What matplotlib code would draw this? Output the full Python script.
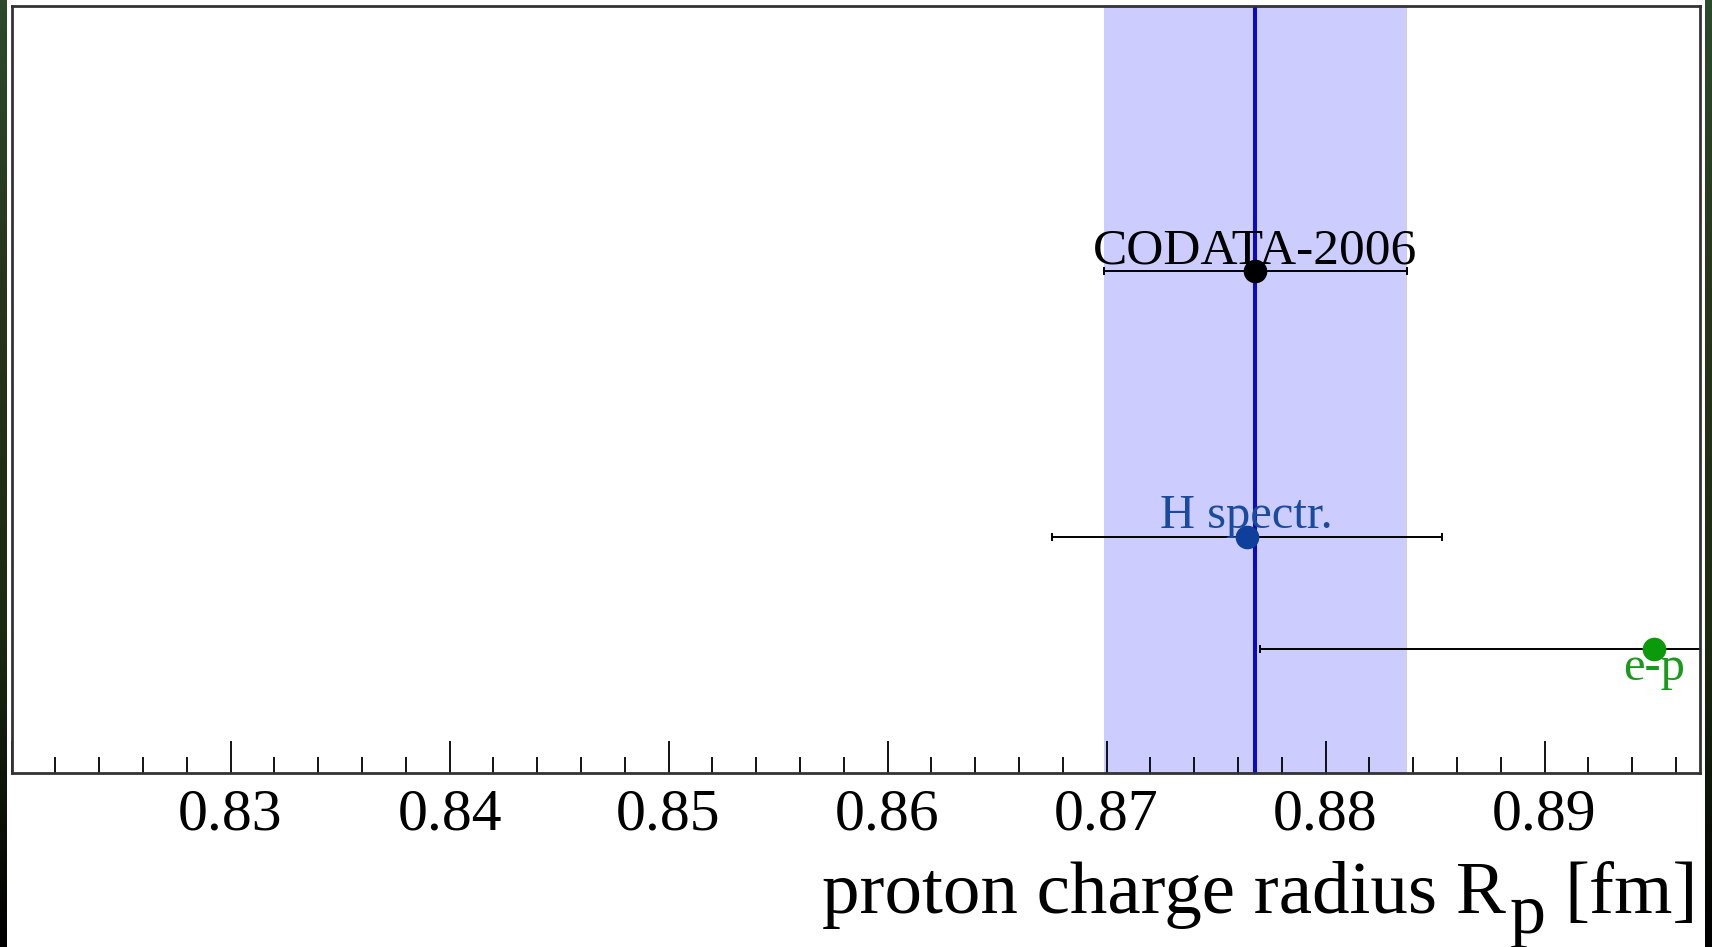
import numpy as np
import matplotlib.pyplot as plt
from matplotlib.ticker import MultipleLocator

# proton charge radius determinations [fm]
labels = ["CODATA-2006", "H spectr.", "e-p"]
radius = [0.8768, 0.8764, 0.895]
sigma = [0.0069, 0.0089, 0.018]
row_y = [0.654, 0.308, 0.162]
marker_colors = ["black", "#0e3f9a", "#0a9a0a"]
text_colors = ["black", "#1b4b9e", "#1a9a1a"]

plt.rcParams["font.family"] = ["Liberation Serif", "DejaVu Serif"]

fig = plt.figure(figsize=(17.12, 9.47), dpi=100)
fig.patch.set_facecolor("white")

# dark slide background strips at the left and right edges
grad = np.linspace(0, 1, 256).reshape(-1, 1)
strip_cmap = plt.matplotlib.colors.LinearSegmentedColormap.from_list(
    "strip", ["#2c4a2c", "#27331b", "#1c2a12", "#000000"])
for x0 in (0.0, 1705 / 1712):
    sax = fig.add_axes([x0, 0, 7 / 1712, 1])
    sax.imshow(grad, aspect="auto", cmap=strip_cmap, extent=[0, 1, 0, 1])
    sax.set_axis_off()

ax = fig.add_axes([11.5 / 1712, 1 - 773 / 947, (1700 - 11.5) / 1712, (773 - 6) / 947])

# CODATA band and central value
c_val, c_err = radius[0], sigma[0]
ax.axvspan(c_val - c_err, c_val + c_err, color="#ccccff", lw=0, zorder=0)
ax.axvline(c_val, color="#0a0ac8", lw=2.9, zorder=1)

offsets = [8, 9, -31]
sizes = [37, 35, 35]
for lab, x, e, y, mc, tc, off, fsz in zip(labels, radius, sigma, row_y,
                                          marker_colors, text_colors, offsets, sizes):
    ax.errorbar(x, y, xerr=e, fmt="none", ecolor="black", elinewidth=1.4,
                capsize=3, capthick=1.4, zorder=2)
    ax.plot(x, y, "o", color=mc, ms=16, zorder=3)
    ax.annotate(lab, xy=(x, y), xytext=(0, off * 0.72), textcoords="offset points",
                ha="center", va="baseline", fontsize=fsz, color=tc, zorder=4)

ax.set_xlim(0.82, 0.8971)
ax.set_ylim(0, 1)
ax.xaxis.set_major_locator(MultipleLocator(0.01))
ax.xaxis.set_minor_locator(MultipleLocator(0.002))
ax.xaxis.set_major_formatter(plt.FuncFormatter(
    lambda v, p: f"{v:.2f}" if v > 0.825 else ""))
ax.tick_params(axis="x", which="major", direction="in", length=23, width=1.3,
               labelsize=43, pad=11)
ax.tick_params(axis="x", which="minor", direction="in", length=11.5, width=1.3)
ax.set_yticks([])
for sp in ax.spines.values():
    sp.set_linewidth(2)
    sp.set_color("#333333")

# axis title with a full-size lowered subscript
fs = 54
t_fm = fig.text(1698 / 1712, 1 - 913 / 947, "[fm]", ha="right", va="baseline",
                fontsize=fs)
t_p = ax.annotate("p", xy=(0, 0), xycoords=t_fm, xytext=(-13, -14),
                  textcoords="offset points", ha="right", va="bottom", fontsize=52,
                  annotation_clip=False)
t_main = ax.annotate("proton charge radius R", xy=(0, 0), xycoords=t_fm,
                     xytext=(-42, 0), textcoords="offset points", ha="right",
                     va="bottom", fontsize=fs, annotation_clip=False)

fig.savefig("out.png", dpi=100, facecolor="white")
